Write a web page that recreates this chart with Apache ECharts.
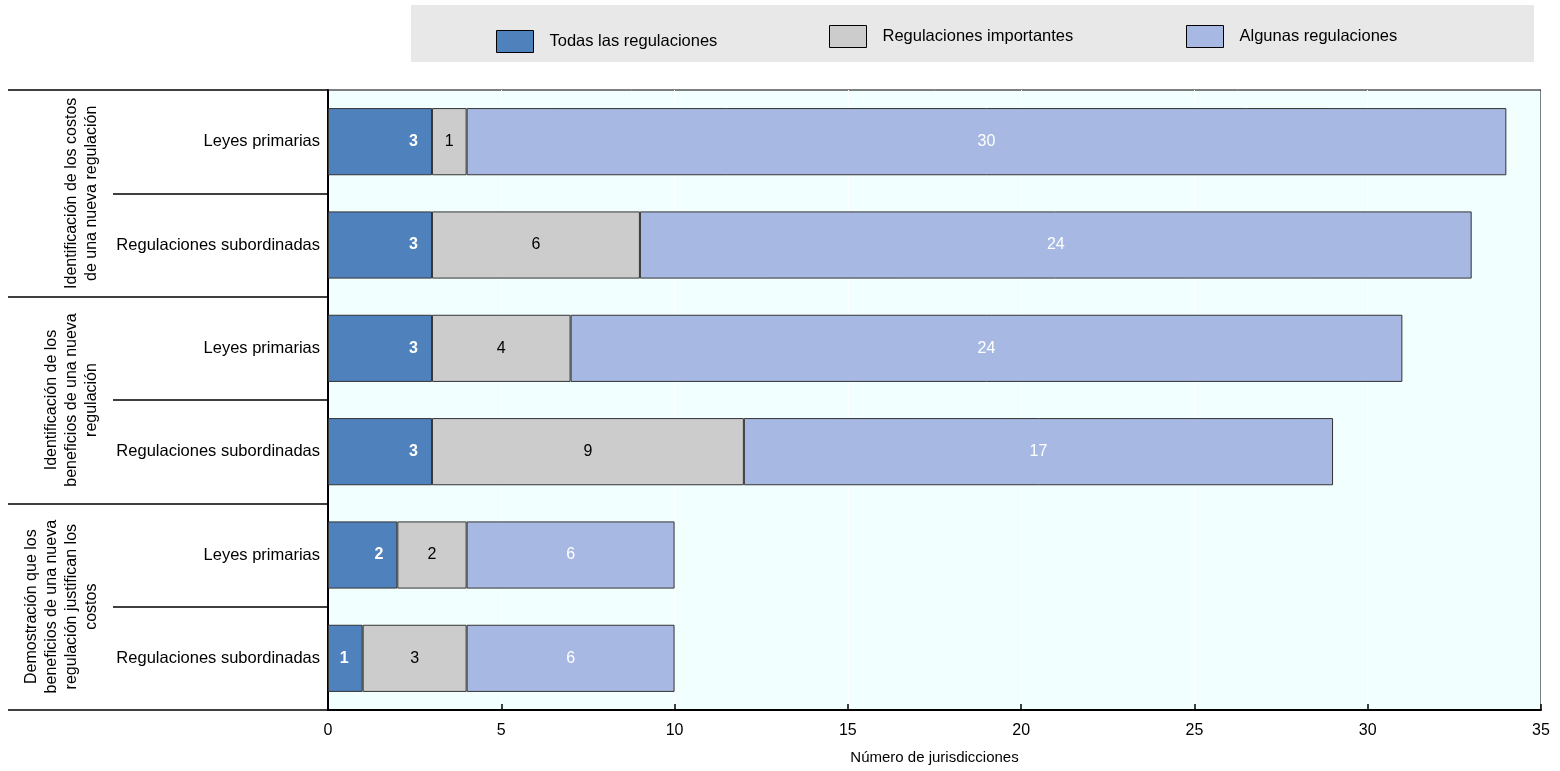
<!DOCTYPE html>
<html>
<head>
<meta charset="utf-8">
<script src="https://cdn.jsdelivr.net/npm/echarts@6/dist/echarts.min.js"></script>
<style>
html,body{margin:0;padding:0;background:#fff;}
#chart{width:1560px;height:771px;}
</style>
</head>
<body>
<div id="chart"></div>
<script>
const categories = ['Leyes primarias', 'Regulaciones subordinadas', 'Leyes primarias', 'Regulaciones subordinadas', 'Leyes primarias', 'Regulaciones subordinadas'];
const groups = [
  'Identificación de los costos\nde una nueva regulación',
  'Identificación de los\nbeneficios de una nueva\nregulación',
  'Demostración que los\nbeneficios de una nueva\nregulación justifican los\ncostos'
];
const seriesNames = ['Todas las regulaciones', 'Regulaciones importantes', 'Algunas regulaciones'];
const todas = [3, 3, 3, 3, 2, 1];
const importantes = [1, 6, 4, 9, 2, 3];
const algunas = [30, 24, 24, 17, 6, 6];
const xTicks = { min: 0, max: 35, interval: 5 };

const FONT = "'Liberation Sans Narrow', 'Arial Narrow', 'Liberation Sans', Arial, sans-serif";
const colors = ['#4F81BD', '#CCCCCC', '#A7B9E3'];

const chart = echarts.init(document.getElementById('chart'));

function legendFor(i, left, top) {
  return {
    data: [seriesNames[i]],
    left: left, top: top,
    itemWidth: 37, itemHeight: 22,
    icon: 'rect',
    itemStyle: { borderColor: '#000', borderWidth: 1 },
    textStyle: { fontFamily: FONT, fontSize: 16.5, color: '#000', padding: [0, 0, 0, 11] },
    selectedMode: false
  };
}

function barSeries(i, data, label) {
  return {
    name: seriesNames[i],
    type: 'bar',
    stack: 'total',
    data: data,
    barWidth: '65%',
    itemStyle: { color: colors[i], borderColor: '#333', borderWidth: 1 },
    label: Object.assign({ show: true, fontFamily: FONT, fontSize: 16 }, label)
  };
}

chart.setOption({
  animation: false,
  textStyle: { fontFamily: FONT },
  graphic: [{
    type: 'rect', left: 411, top: 5, z: -10,
    shape: { width: 1123, height: 57 },
    style: { fill: '#E8E8E8' }
  }],
  legend: [legendFor(0, 491, 25), legendFor(1, 824, 20), legendFor(2, 1181, 20)],
  grid: {
    left: 328, right: 19, top: 90, bottom: 61,
    show: true, backgroundColor: '#F2FFFF', borderColor: '#000', borderWidth: 1
  },
  xAxis: {
    type: 'value',
    min: xTicks.min, max: xTicks.max, interval: xTicks.interval,
    name: 'Número de jurisdicciones',
    nameLocation: 'middle', nameGap: 40,
    nameTextStyle: { fontFamily: FONT, fontSize: 15, color: '#000' },
    axisLine: { show: true, lineStyle: { color: '#000', width: 2 } },
    axisTick: { show: true, inside: true, length: 6, lineStyle: { color: '#000', width: 1.5 } },
    axisLabel: { fontFamily: FONT, fontSize: 16, color: '#000', margin: 13 },
    splitLine: { show: true, lineStyle: { color: '#FFFFFF', width: 1 } }
  },
  yAxis: [{
    type: 'category',
    position: 'left',
    inverse: true,
    data: categories,
    axisLine: { show: true, lineStyle: { color: '#000', width: 2 } },
    axisTick: { show: true, length: 215, lineStyle: { color: '#000', width: 1.5 } },
    axisLabel: { fontFamily: FONT, fontSize: 16.5, color: '#000', margin: 8, interval: 0 }
  }, {
    type: 'category',
    position: 'left',
    inverse: true,
    data: groups,
    axisLine: { show: false },
    axisTick: { show: true, length: 320, lineStyle: { color: '#000', width: 1.5 } },
    axisLabel: { fontFamily: FONT, fontSize: 16, lineHeight: 20, color: '#000', rotate: 90, margin: 226, interval: 0, align: 'center' }
  }],
  series: [
    barSeries(0, todas, { position: 'insideRight', distance: 14, color: '#fff', fontWeight: 'bold' }),
    barSeries(1, importantes, { position: 'inside', color: '#000' }),
    barSeries(2, algunas, { position: 'inside', color: '#fff' })
  ]
});
</script>
</body>
</html>
